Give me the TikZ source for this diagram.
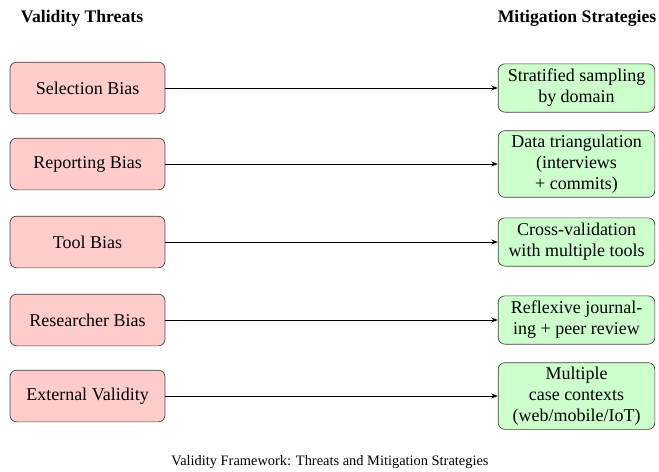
\documentclass[tikz,border=0pt]{standalone}
\usepackage{fontspec}
\setmainfont{Liberation Serif}
\usetikzlibrary{arrows.meta}
\begin{document}
\begin{tikzpicture}[x=0.6pt,y=-0.6pt,
  threat/.style={draw=black!75, fill=red!20, rounded corners=4pt, minimum width=93pt, minimum height=31pt, align=center, font=\fontsize{10.8}{12.6}\selectfont, inner sep=2.5pt},
  mitig/.style={draw=black!75, fill=green!20, rounded corners=4pt, minimum width=94pt, minimum height=29pt, align=center, font=\fontsize{10.8}{12.6}\selectfont, inner sep=2.5pt},
  head/.style={font=\bfseries\fontsize{10.6}{12}\selectfont},
  link/.style={-{Stealth[length=4pt,width=3pt]}, line width=0.5pt}]
\useasboundingbox (0,0) rectangle (659,471);
\node[head] (h1) at (82,18) {Validity Threats};
\node[head] (h2) at (577,18) {Mitigation Strategies};
\node[threat] (t1) at (87.5,88) {Selection Bias};
\node[threat] (t2) at (87.5,164) {Reporting Bias};
\node[threat] (t3) at (87.5,242) {Tool Bias};
\node[threat] (t4) at (87.5,320) {Researcher Bias};
\node[threat] (t5) at (87.5,396) {External Validity};
\node[mitig] (m1) at (576.5,88) {Stratified sampling\\by domain};
\node[mitig] (m2) at (576.5,164) {Data triangulation\\(interviews\\+ commits)};
\node[mitig] (m3) at (576.5,242) {Cross-validation\\with multiple tools};
\node[mitig] (m4) at (576.5,320) {Reflexive journal-\\ing + peer review};
\node[mitig] (m5) at (576.5,396) {Multiple\\case contexts\\(web/mobile/IoT)};
\foreach \i in {1,...,5} \draw[link] (t\i.east) -- (m\i.west);
\node[font=\fontsize{8.65}{10}\selectfont] (cap) at (330,462) {Validity Framework: Threats and Mitigation Strategies};
\end{tikzpicture}
\end{document}
